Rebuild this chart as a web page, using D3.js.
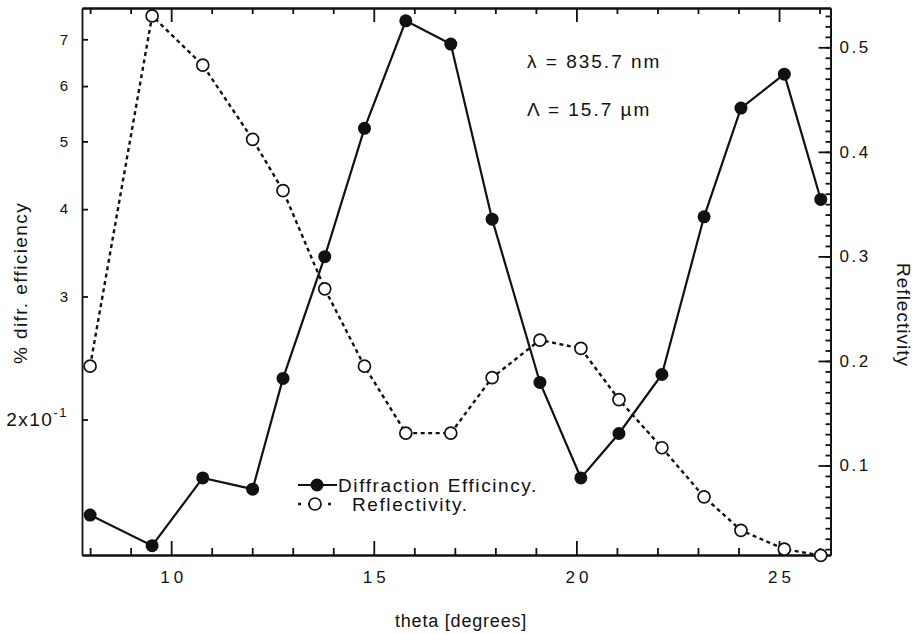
<!DOCTYPE html>
<html>
<head>
<meta charset="utf-8">
<script src="https://cdn.jsdelivr.net/npm/d3@7"></script>
<style>
  body { margin: 0; background: #fff; }
  svg text { font-family: "Liberation Sans", Arial, sans-serif; fill: #111; }
</style>
</head>
<body>
<div id="chart"></div>
<script>
// data
const theta = [8.0, 9.53, 10.78, 12.01, 12.76, 13.79, 14.77, 15.79, 16.9, 17.92, 19.1, 20.11, 21.05, 22.11, 23.15, 24.06, 25.13, 26.03];
const diffEff = [0.146, 0.132, 0.165, 0.159, 0.229, 0.342, 0.522, 0.744, 0.689, 0.387, 0.226, 0.165, 0.191, 0.232, 0.390, 0.558, 0.624, 0.413];
const reflect = [0.195, 0.530, 0.483, 0.412, 0.363, 0.269, 0.195, 0.131, 0.131, 0.184, 0.220, 0.212, 0.163, 0.117, 0.070, 0.038, 0.020, 0.014];
const xMajor = [10, 15, 20, 25];
const xMinor = [8, 9, 11, 12, 13, 14, 16, 17, 18, 19, 21, 22, 23, 24, 26];
const leftTicks = [0.2, 0.3, 0.4, 0.5, 0.6, 0.7];
const rightTicks = [0.1, 0.2, 0.3, 0.4, 0.5];

const width = 920, height = 634;
const margin = { top: 8, right: 89.5, bottom: 79, left: 82 };

const svg = d3.select("#chart").append("svg")
    .attr("width", width)
    .attr("height", height);

const x = d3.scaleLinear().domain([7.8, 26.27]).range([margin.left, width - margin.right]);
const yL = d3.scaleLog().domain([0.128, 0.776]).range([height - margin.bottom, margin.top]);
const yR = d3.scaleLinear().domain([0.0144, 0.5376]).range([height - margin.bottom, margin.top]);

const bottom = height - margin.bottom, right = width - margin.right;

function styleAxis(g) {
    g.selectAll("path, line").attr("stroke", "#111").attr("stroke-width", 1.8);
    g.selectAll("text").attr("font-size", 16).attr("fill", "#111");
}

// bottom axis: minor then major ticks (inward)
svg.append("g").attr("transform", `translate(0,${bottom})`)
    .call(d3.axisBottom(x).tickValues(xMinor).tickSize(-7).tickSizeOuter(0).tickFormat(""))
    .call(styleAxis);
svg.append("g").attr("transform", `translate(0,${bottom})`)
    .call(d3.axisBottom(x).tickValues(xMajor).tickSize(-14).tickSizeOuter(0).tickPadding(16))
    .call(styleAxis)
    .selectAll("text").attr("font-size", 17).attr("letter-spacing", 4).attr("dx", 2);

// top axis mirrors bottom
svg.append("g").attr("transform", `translate(0,${margin.top})`)
    .call(d3.axisTop(x).tickValues(xMinor).tickSize(-6).tickSizeOuter(0).tickFormat(""))
    .call(styleAxis);
svg.append("g").attr("transform", `translate(0,${margin.top})`)
    .call(d3.axisTop(x).tickValues(xMajor).tickSize(-14).tickSizeOuter(0).tickFormat(""))
    .call(styleAxis);

// left log axis
const gL = svg.append("g").attr("transform", `translate(${margin.left},0)`)
    .call(d3.axisLeft(yL).tickValues(leftTicks).tickSize(-6).tickSizeOuter(0).tickPadding(14)
        .tickFormat(d => d3.format(".0f")(d * 10)))
    .call(styleAxis);
gL.selectAll(".tick text").attr("font-size", 15)
    .filter(d => d === 0.2)
    .attr("font-size", 19)
    .attr("letter-spacing", 1.5)
    .text("2x10")
    .append("tspan").attr("dy", -9).attr("font-size", 13).text("-1");

// right linear axis with fine ticks
svg.append("g").attr("transform", `translate(${right},0)`)
    .call(d3.axisRight(yR).tickValues(d3.range(0.02, 0.54, 0.01)).tickSize(-5).tickSizeOuter(0).tickFormat(""))
    .call(styleAxis);
svg.append("g").attr("transform", `translate(${right},0)`)
    .call(d3.axisRight(yR).tickValues(rightTicks).tickSize(-12).tickSizeOuter(0).tickPadding(9)
        .tickFormat(d3.format(".1f")))
    .call(styleAxis)
    .selectAll("text").attr("font-size", 17).attr("letter-spacing", 2.5);

// reflectivity dotted line
svg.append("path")
    .datum(theta.map((t, i) => [t, reflect[i]]))
    .attr("fill", "none")
    .attr("stroke", "#111")
    .attr("stroke-width", 2.4)
    .attr("stroke-dasharray", "4,3.5")
    .attr("d", d3.line().x(d => x(d[0])).y(d => yR(d[1])));

// diffraction solid line
svg.append("path")
    .datum(theta.map((t, i) => [t, diffEff[i]]))
    .attr("fill", "none")
    .attr("stroke", "#111")
    .attr("stroke-width", 2.2)
    .attr("d", d3.line().x(d => x(d[0])).y(d => yL(d[1])));

svg.selectAll(".ref")
    .data(theta.map((t, i) => [t, reflect[i]]))
  .enter().append("circle")
    .attr("class", "ref")
    .attr("cx", d => x(d[0]))
    .attr("cy", d => yR(d[1]))
    .attr("r", 6)
    .attr("fill", "#fff")
    .attr("stroke", "#111")
    .attr("stroke-width", 1.7);

svg.selectAll(".dif")
    .data(theta.map((t, i) => [t, diffEff[i]]))
  .enter().append("circle")
    .attr("class", "dif")
    .attr("cx", d => x(d[0]))
    .attr("cy", d => yL(d[1]))
    .attr("r", 6.5)
    .attr("fill", "#111");

// legend
const leg = svg.append("g");
leg.append("line").attr("x1", 298).attr("x2", 337).attr("y1", 485).attr("y2", 485)
    .attr("stroke", "#111").attr("stroke-width", 2.2);
leg.append("circle").attr("cx", 317).attr("cy", 485).attr("r", 6.5).attr("fill", "#111");
leg.append("text").attr("x", 338).attr("y", 492).attr("font-size", 19).attr("letter-spacing", 1.6)
    .text("Diffraction  Efficincy.");
leg.append("line").attr("x1", 298).attr("x2", 335).attr("y1", 504).attr("y2", 504)
    .attr("stroke", "#111").attr("stroke-width", 2.4).attr("stroke-dasharray", "3,7");
leg.append("circle").attr("cx", 315).attr("cy", 504).attr("r", 6).attr("fill", "#fff")
    .attr("stroke", "#111").attr("stroke-width", 1.7);
leg.append("text").attr("x", 352).attr("y", 511).attr("font-size", 19).attr("letter-spacing", 1.6)
    .text("Reflectivity.");

// annotations
svg.append("text").attr("x", 527).attr("y", 68).attr("font-size", 19).attr("letter-spacing", 2)
    .text("λ = 835.7  nm");
svg.append("text").attr("x", 527).attr("y", 116).attr("font-size", 19).attr("letter-spacing", 2)
    .text("Λ = 15.7  µm");

// axis titles
svg.append("text").attr("transform", "translate(27,283) rotate(-90)")
    .attr("text-anchor", "middle").attr("font-size", 19).attr("letter-spacing", 1.4)
    .text("% difr.  efficiency");
svg.append("text").attr("transform", "translate(897,315) rotate(90)")
    .attr("text-anchor", "middle").attr("font-size", 19).attr("letter-spacing", 1)
    .text("Reflectivity");
svg.append("text").attr("x", 461).attr("y", 627)
    .attr("text-anchor", "middle").attr("font-size", 18).attr("letter-spacing", 0.8)
    .text("theta [degrees]");
</script>
</body>
</html>
